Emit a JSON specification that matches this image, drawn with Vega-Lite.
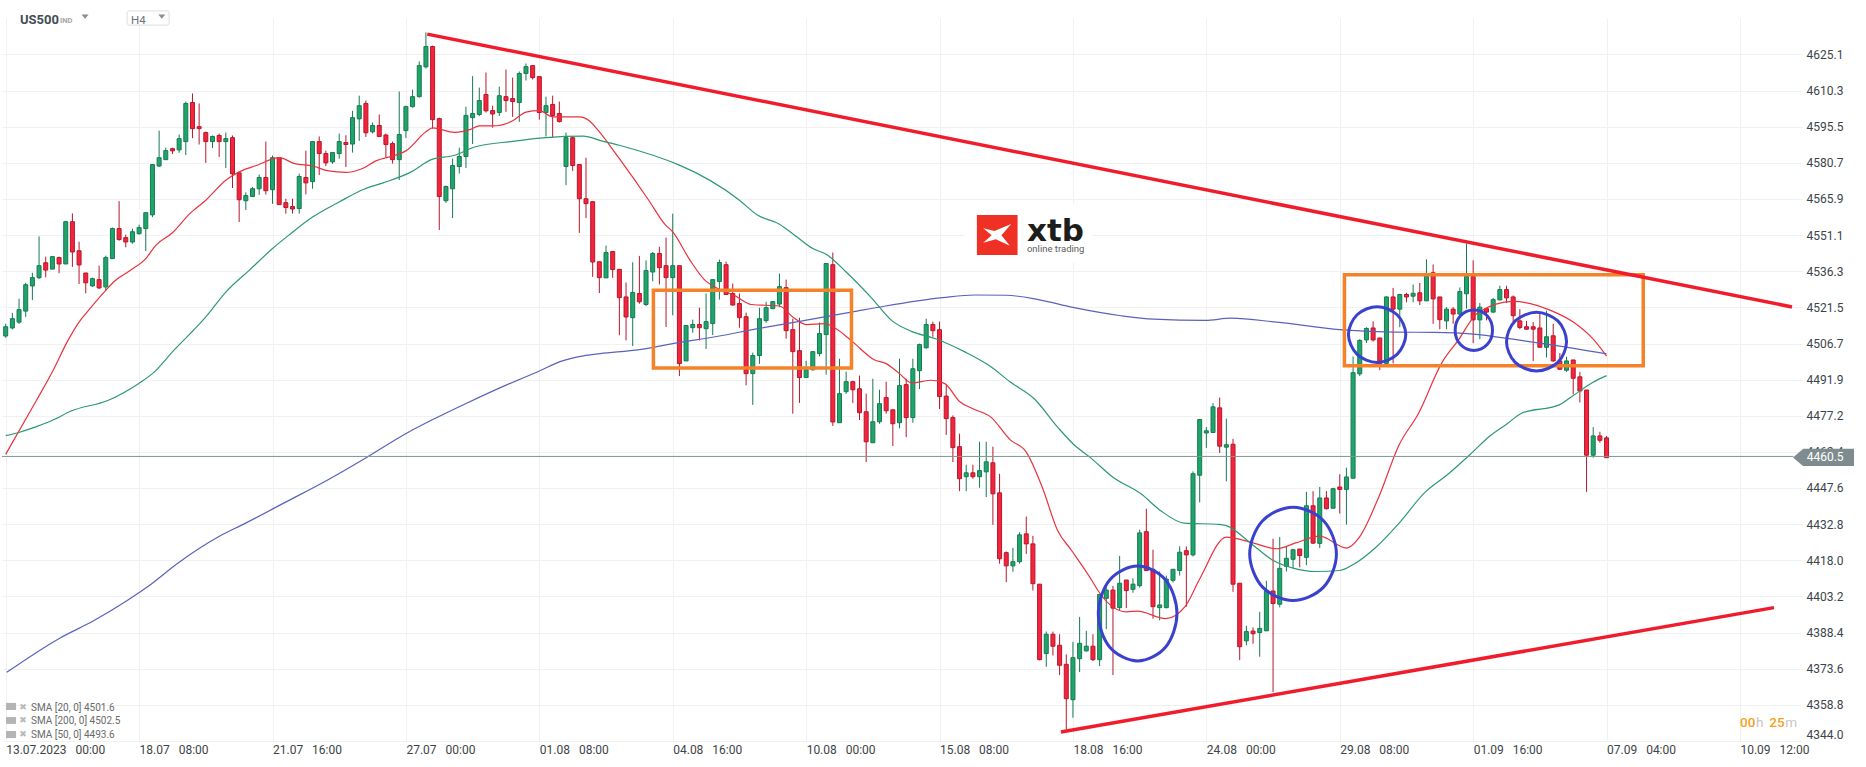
{
  "$schema": "https://vega.github.io/schema/vega-lite/v6.json",
  "width": 1800,
  "height": 723,
  "autosize": "none",
  "padding": {"left": 2, "top": 18, "right": 64, "bottom": 26},
  "background": "white",
  "view": {"stroke": null},
  "config": {"font": "Roboto"},
  "datasets": {
    "candles": [
      {"b":0,"o":4509.8,"h":4514.8,"l":4509.1,"c":4513.6,"dir":"up"},
      {"b":1,"o":4513.1,"h":4519.3,"l":4512.5,"c":4516.9,"dir":"up"},
      {"b":2,"o":4515.5,"h":4525.1,"l":4514.7,"c":4520.6,"dir":"up"},
      {"b":3,"o":4520.0,"h":4531.6,"l":4517.6,"c":4530.8,"dir":"up"},
      {"b":4,"o":4530.3,"h":4535.7,"l":4524.5,"c":4533.7,"dir":"up"},
      {"b":5,"o":4533.7,"h":4550.6,"l":4533.1,"c":4538.6,"dir":"up"},
      {"b":6,"o":4539.8,"h":4542.3,"l":4533.8,"c":4536.8,"dir":"down"},
      {"b":7,"o":4537.2,"h":4542.3,"l":4537.2,"c":4542.3,"dir":"up"},
      {"b":8,"o":4541.9,"h":4542.3,"l":4535.5,"c":4539.3,"dir":"down"},
      {"b":9,"o":4539.3,"h":4557.0,"l":4539.3,"c":4556.6,"dir":"up"},
      {"b":10,"o":4556.6,"h":4560.0,"l":4538.1,"c":4544.2,"dir":"down"},
      {"b":11,"o":4544.7,"h":4548.4,"l":4531.1,"c":4538.9,"dir":"down"},
      {"b":12,"o":4535.6,"h":4535.7,"l":4527.3,"c":4531.6,"dir":"down"},
      {"b":13,"o":4530.3,"h":4533.7,"l":4529.9,"c":4533.3,"dir":"up"},
      {"b":14,"o":4532.9,"h":4538.6,"l":4529.0,"c":4529.5,"dir":"down"},
      {"b":15,"o":4529.9,"h":4542.7,"l":4528.5,"c":4541.9,"dir":"up"},
      {"b":16,"o":4541.5,"h":4554.2,"l":4541.3,"c":4553.8,"dir":"up"},
      {"b":17,"o":4553.8,"h":4565.0,"l":4548.8,"c":4549.3,"dir":"down"},
      {"b":18,"o":4550.1,"h":4551.3,"l":4546.1,"c":4548.3,"dir":"down"},
      {"b":19,"o":4548.3,"h":4553.8,"l":4547.6,"c":4552.5,"dir":"up"},
      {"b":20,"o":4551.7,"h":4555.4,"l":4551.3,"c":4554.2,"dir":"up"},
      {"b":21,"o":4553.8,"h":4560.3,"l":4544.6,"c":4560.3,"dir":"up"},
      {"b":22,"o":4559.4,"h":4580.0,"l":4558.5,"c":4580.0,"dir":"up"},
      {"b":23,"o":4579.4,"h":4593.9,"l":4579.0,"c":4582.8,"dir":"up"},
      {"b":24,"o":4582.0,"h":4586.9,"l":4581.9,"c":4585.7,"dir":"up"},
      {"b":25,"o":4586.5,"h":4586.9,"l":4584.3,"c":4585.6,"dir":"down"},
      {"b":26,"o":4586.0,"h":4592.3,"l":4584.8,"c":4590.6,"dir":"up"},
      {"b":27,"o":4589.4,"h":4605.8,"l":4583.9,"c":4605.0,"dir":"up"},
      {"b":28,"o":4605.4,"h":4609.1,"l":4590.8,"c":4594.7,"dir":"down"},
      {"b":29,"o":4595.5,"h":4605.0,"l":4588.2,"c":4594.7,"dir":"down"},
      {"b":30,"o":4593.1,"h":4593.5,"l":4580.7,"c":4589.4,"dir":"down"},
      {"b":31,"o":4589.4,"h":4591.9,"l":4586.8,"c":4591.5,"dir":"up"},
      {"b":32,"o":4591.9,"h":4592.7,"l":4583.1,"c":4589.4,"dir":"down"},
      {"b":33,"o":4589.4,"h":4593.1,"l":4578.6,"c":4590.6,"dir":"up"},
      {"b":34,"o":4591.0,"h":4591.9,"l":4570.4,"c":4576.2,"dir":"down"},
      {"b":35,"o":4576.6,"h":4576.8,"l":4556.5,"c":4565.6,"dir":"down"},
      {"b":36,"o":4565.2,"h":4568.6,"l":4561.4,"c":4567.3,"dir":"up"},
      {"b":37,"o":4566.9,"h":4570.8,"l":4566.7,"c":4570.1,"dir":"up"},
      {"b":38,"o":4570.1,"h":4575.9,"l":4567.6,"c":4574.7,"dir":"up"},
      {"b":39,"o":4574.7,"h":4589.4,"l":4567.7,"c":4569.3,"dir":"down"},
      {"b":40,"o":4569.7,"h":4583.7,"l":4563.9,"c":4582.8,"dir":"up"},
      {"b":41,"o":4582.8,"h":4583.1,"l":4563.6,"c":4563.6,"dir":"down"},
      {"b":42,"o":4564.4,"h":4566.0,"l":4559.9,"c":4562.4,"dir":"down"},
      {"b":43,"o":4562.8,"h":4566.0,"l":4559.9,"c":4561.8,"dir":"down"},
      {"b":44,"o":4562.0,"h":4576.3,"l":4559.9,"c":4575.1,"dir":"up"},
      {"b":45,"o":4574.7,"h":4585.7,"l":4567.8,"c":4572.5,"dir":"down"},
      {"b":46,"o":4573.0,"h":4589.4,"l":4570.1,"c":4589.4,"dir":"up"},
      {"b":47,"o":4589.4,"h":4591.5,"l":4575.7,"c":4584.5,"dir":"down"},
      {"b":48,"o":4584.5,"h":4585.7,"l":4579.4,"c":4580.7,"dir":"down"},
      {"b":49,"o":4581.1,"h":4584.9,"l":4580.3,"c":4584.9,"dir":"up"},
      {"b":50,"o":4584.5,"h":4592.7,"l":4582.4,"c":4589.4,"dir":"up"},
      {"b":51,"o":4589.0,"h":4592.0,"l":4579.0,"c":4588.2,"dir":"down"},
      {"b":52,"o":4588.4,"h":4602.0,"l":4584.9,"c":4599.2,"dir":"up"},
      {"b":53,"o":4598.7,"h":4608.2,"l":4589.7,"c":4604.1,"dir":"up"},
      {"b":54,"o":4605.0,"h":4606.2,"l":4591.3,"c":4593.0,"dir":"down"},
      {"b":55,"o":4593.4,"h":4597.2,"l":4592.7,"c":4596.0,"dir":"up"},
      {"b":56,"o":4596.0,"h":4600.5,"l":4591.5,"c":4591.5,"dir":"down"},
      {"b":57,"o":4592.1,"h":4592.7,"l":4582.8,"c":4588.2,"dir":"down"},
      {"b":58,"o":4588.6,"h":4589.4,"l":4580.4,"c":4582.0,"dir":"down"},
      {"b":59,"o":4582.0,"h":4609.9,"l":4573.7,"c":4592.3,"dir":"up"},
      {"b":60,"o":4593.9,"h":4604.1,"l":4590.9,"c":4603.7,"dir":"up"},
      {"b":61,"o":4603.7,"h":4610.7,"l":4603.3,"c":4607.8,"dir":"up"},
      {"b":62,"o":4607.8,"h":4622.2,"l":4607.4,"c":4620.5,"dir":"up"},
      {"b":63,"o":4620.0,"h":4634.1,"l":4619.3,"c":4628.3,"dir":"up"},
      {"b":64,"o":4628.3,"h":4628.7,"l":4594.7,"c":4598.4,"dir":"down"},
      {"b":65,"o":4598.8,"h":4599.2,"l":4553.2,"c":4566.9,"dir":"down"},
      {"b":66,"o":4565.2,"h":4571.4,"l":4564.3,"c":4571.0,"dir":"up"},
      {"b":67,"o":4570.1,"h":4582.4,"l":4558.1,"c":4579.6,"dir":"up"},
      {"b":68,"o":4579.2,"h":4586.9,"l":4576.3,"c":4583.3,"dir":"up"},
      {"b":69,"o":4583.3,"h":4603.7,"l":4578.6,"c":4600.1,"dir":"up"},
      {"b":70,"o":4599.2,"h":4616.2,"l":4588.4,"c":4600.9,"dir":"up"},
      {"b":71,"o":4600.5,"h":4611.5,"l":4599.8,"c":4606.2,"dir":"up"},
      {"b":72,"o":4608.7,"h":4617.7,"l":4601.3,"c":4602.0,"dir":"down"},
      {"b":73,"o":4602.1,"h":4604.1,"l":4595.1,"c":4600.7,"dir":"down"},
      {"b":74,"o":4601.3,"h":4611.9,"l":4599.9,"c":4608.2,"dir":"up"},
      {"b":75,"o":4607.8,"h":4618.9,"l":4601.6,"c":4606.2,"dir":"down"},
      {"b":76,"o":4607.0,"h":4615.6,"l":4599.5,"c":4605.8,"dir":"down"},
      {"b":77,"o":4605.4,"h":4618.1,"l":4597.5,"c":4617.3,"dir":"up"},
      {"b":78,"o":4617.3,"h":4621.4,"l":4614.4,"c":4620.1,"dir":"up"},
      {"b":79,"o":4620.5,"h":4620.5,"l":4614.8,"c":4615.6,"dir":"down"},
      {"b":80,"o":4616.0,"h":4616.0,"l":4598.4,"c":4601.3,"dir":"down"},
      {"b":81,"o":4601.3,"h":4607.8,"l":4591.5,"c":4604.1,"dir":"up"},
      {"b":82,"o":4604.6,"h":4608.2,"l":4591.0,"c":4600.1,"dir":"down"},
      {"b":83,"o":4600.9,"h":4605.8,"l":4597.2,"c":4597.6,"dir":"down"},
      {"b":84,"o":4579.2,"h":4593.1,"l":4571.6,"c":4591.0,"dir":"up"},
      {"b":85,"o":4591.0,"h":4591.5,"l":4577.4,"c":4579.6,"dir":"down"},
      {"b":86,"o":4580.0,"h":4580.0,"l":4552.0,"c":4566.0,"dir":"down"},
      {"b":87,"o":4566.0,"h":4582.8,"l":4558.1,"c":4564.0,"dir":"down"},
      {"b":88,"o":4564.8,"h":4565.0,"l":4534.0,"c":4540.1,"dir":"down"},
      {"b":89,"o":4540.2,"h":4540.2,"l":4527.4,"c":4533.7,"dir":"down"},
      {"b":90,"o":4533.6,"h":4546.8,"l":4533.6,"c":4544.0,"dir":"up"},
      {"b":91,"o":4544.4,"h":4544.4,"l":4533.6,"c":4537.0,"dir":"down"},
      {"b":92,"o":4537.1,"h":4537.1,"l":4510.1,"c":4525.5,"dir":"down"},
      {"b":93,"o":4525.8,"h":4531.7,"l":4508.0,"c":4517.6,"dir":"down"},
      {"b":94,"o":4517.3,"h":4540.0,"l":4505.7,"c":4527.6,"dir":"up"},
      {"b":95,"o":4527.2,"h":4542.6,"l":4523.0,"c":4523.8,"dir":"down"},
      {"b":96,"o":4522.7,"h":4540.8,"l":4522.1,"c":4536.6,"dir":"up"},
      {"b":97,"o":4536.0,"h":4544.2,"l":4532.2,"c":4543.6,"dir":"up"},
      {"b":98,"o":4543.6,"h":4546.3,"l":4530.9,"c":4537.8,"dir":"down"},
      {"b":99,"o":4538.6,"h":4550.1,"l":4513.5,"c":4533.7,"dir":"down"},
      {"b":100,"o":4533.7,"h":4559.9,"l":4518.3,"c":4538.6,"dir":"up"},
      {"b":101,"o":4538.6,"h":4538.6,"l":4493.4,"c":4498.5,"dir":"down"},
      {"b":102,"o":4499.6,"h":4514.1,"l":4499.6,"c":4514.1,"dir":"up"},
      {"b":103,"o":4513.2,"h":4516.5,"l":4511.1,"c":4514.5,"dir":"up"},
      {"b":104,"o":4514.5,"h":4521.4,"l":4508.0,"c":4513.2,"dir":"down"},
      {"b":105,"o":4512.8,"h":4527.2,"l":4504.5,"c":4515.7,"dir":"up"},
      {"b":106,"o":4514.9,"h":4532.9,"l":4510.2,"c":4532.9,"dir":"up"},
      {"b":107,"o":4532.1,"h":4541.1,"l":4524.7,"c":4539.9,"dir":"up"},
      {"b":108,"o":4539.0,"h":4540.3,"l":4526.8,"c":4526.8,"dir":"down"},
      {"b":109,"o":4527.2,"h":4531.3,"l":4522.2,"c":4522.5,"dir":"down"},
      {"b":110,"o":4523.1,"h":4527.2,"l":4513.2,"c":4517.3,"dir":"down"},
      {"b":111,"o":4517.7,"h":4519.4,"l":4489.6,"c":4494.4,"dir":"down"},
      {"b":112,"o":4494.4,"h":4503.0,"l":4481.6,"c":4501.8,"dir":"up"},
      {"b":113,"o":4501.8,"h":4521.4,"l":4498.4,"c":4516.9,"dir":"up"},
      {"b":114,"o":4516.1,"h":4523.8,"l":4515.2,"c":4521.4,"dir":"up"},
      {"b":115,"o":4521.0,"h":4523.9,"l":4520.9,"c":4523.9,"dir":"up"},
      {"b":116,"o":4522.9,"h":4535.4,"l":4521.6,"c":4530.0,"dir":"up"},
      {"b":117,"o":4529.6,"h":4532.9,"l":4508.7,"c":4512.0,"dir":"down"},
      {"b":118,"o":4512.4,"h":4516.9,"l":4478.0,"c":4503.4,"dir":"down"},
      {"b":119,"o":4503.8,"h":4517.3,"l":4482.4,"c":4492.8,"dir":"down"},
      {"b":120,"o":4492.8,"h":4499.7,"l":4492.6,"c":4496.0,"dir":"up"},
      {"b":121,"o":4496.0,"h":4503.4,"l":4495.6,"c":4503.4,"dir":"up"},
      {"b":122,"o":4502.6,"h":4515.3,"l":4501.5,"c":4510.8,"dir":"up"},
      {"b":123,"o":4510.4,"h":4539.5,"l":4494.0,"c":4539.5,"dir":"up"},
      {"b":124,"o":4539.0,"h":4544.0,"l":4473.0,"c":4474.6,"dir":"down"},
      {"b":125,"o":4474.3,"h":4500.5,"l":4474.2,"c":4486.2,"dir":"up"},
      {"b":126,"o":4487.0,"h":4495.2,"l":4486.1,"c":4491.1,"dir":"up"},
      {"b":127,"o":4491.1,"h":4491.5,"l":4482.4,"c":4487.8,"dir":"down"},
      {"b":128,"o":4488.2,"h":4493.6,"l":4475.4,"c":4478.4,"dir":"down"},
      {"b":129,"o":4478.8,"h":4486.2,"l":4458.2,"c":4466.5,"dir":"down"},
      {"b":130,"o":4466.1,"h":4492.3,"l":4466.1,"c":4474.7,"dir":"up"},
      {"b":131,"o":4474.7,"h":4487.8,"l":4473.9,"c":4482.1,"dir":"up"},
      {"b":132,"o":4484.6,"h":4491.1,"l":4478.0,"c":4479.2,"dir":"down"},
      {"b":133,"o":4479.6,"h":4479.6,"l":4464.8,"c":4473.9,"dir":"down"},
      {"b":134,"o":4474.3,"h":4500.5,"l":4472.0,"c":4489.5,"dir":"up"},
      {"b":135,"o":4489.9,"h":4492.3,"l":4468.4,"c":4476.4,"dir":"down"},
      {"b":136,"o":4476.4,"h":4500.5,"l":4474.3,"c":4496.4,"dir":"up"},
      {"b":137,"o":4495.6,"h":4506.7,"l":4488.1,"c":4506.3,"dir":"up"},
      {"b":138,"o":4505.0,"h":4516.9,"l":4504.6,"c":4514.5,"dir":"up"},
      {"b":139,"o":4514.5,"h":4515.7,"l":4509.5,"c":4512.0,"dir":"down"},
      {"b":140,"o":4512.4,"h":4515.7,"l":4479.9,"c":4485.0,"dir":"down"},
      {"b":141,"o":4485.2,"h":4489.9,"l":4469.3,"c":4476.0,"dir":"down"},
      {"b":142,"o":4476.4,"h":4477.3,"l":4458.2,"c":4464.1,"dir":"down"},
      {"b":143,"o":4464.5,"h":4469.8,"l":4446.3,"c":4451.4,"dir":"down"},
      {"b":144,"o":4452.2,"h":4457.1,"l":4446.3,"c":4453.8,"dir":"up"},
      {"b":145,"o":4453.8,"h":4457.1,"l":4451.4,"c":4452.2,"dir":"down"},
      {"b":146,"o":4452.2,"h":4466.5,"l":4447.7,"c":4454.7,"dir":"up"},
      {"b":147,"o":4454.2,"h":4466.5,"l":4443.9,"c":4458.3,"dir":"up"},
      {"b":148,"o":4457.9,"h":4464.5,"l":4432.5,"c":4445.2,"dir":"down"},
      {"b":149,"o":4445.6,"h":4453.4,"l":4416.6,"c":4418.6,"dir":"down"},
      {"b":150,"o":4421.1,"h":4421.6,"l":4409.0,"c":4415.7,"dir":"down"},
      {"b":151,"o":4415.7,"h":4423.1,"l":4413.3,"c":4417.4,"dir":"up"},
      {"b":152,"o":4417.4,"h":4429.5,"l":4416.6,"c":4428.4,"dir":"up"},
      {"b":153,"o":4428.8,"h":4435.9,"l":4420.6,"c":4424.7,"dir":"down"},
      {"b":154,"o":4424.7,"h":4428.0,"l":4405.6,"c":4408.4,"dir":"down"},
      {"b":155,"o":4408.2,"h":4408.2,"l":4377.0,"c":4377.3,"dir":"down"},
      {"b":156,"o":4379.8,"h":4388.8,"l":4374.4,"c":4387.7,"dir":"up"},
      {"b":157,"o":4387.7,"h":4388.8,"l":4379.0,"c":4382.8,"dir":"down"},
      {"b":158,"o":4383.2,"h":4387.7,"l":4371.0,"c":4375.0,"dir":"down"},
      {"b":159,"o":4375.4,"h":4379.5,"l":4348.7,"c":4361.3,"dir":"down"},
      {"b":160,"o":4360.9,"h":4384.6,"l":4353.5,"c":4378.1,"dir":"up"},
      {"b":161,"o":4377.7,"h":4394.8,"l":4372.2,"c":4384.0,"dir":"up"},
      {"b":162,"o":4380.9,"h":4389.1,"l":4380.6,"c":4382.8,"dir":"up"},
      {"b":163,"o":4382.8,"h":4387.7,"l":4376.7,"c":4377.3,"dir":"down"},
      {"b":164,"o":4377.3,"h":4404.0,"l":4374.7,"c":4404.0,"dir":"up"},
      {"b":165,"o":4402.4,"h":4407.5,"l":4389.8,"c":4405.8,"dir":"up"},
      {"b":166,"o":4405.8,"h":4407.5,"l":4371.0,"c":4398.4,"dir":"down"},
      {"b":167,"o":4398.6,"h":4419.8,"l":4397.6,"c":4408.6,"dir":"up"},
      {"b":168,"o":4409.9,"h":4409.9,"l":4398.4,"c":4405.6,"dir":"down"},
      {"b":169,"o":4406.1,"h":4410.6,"l":4404.7,"c":4408.2,"dir":"up"},
      {"b":170,"o":4407.6,"h":4430.5,"l":4406.8,"c":4429.2,"dir":"up"},
      {"b":171,"o":4429.7,"h":4439.1,"l":4413.6,"c":4413.8,"dir":"down"},
      {"b":172,"o":4414.3,"h":4422.3,"l":4394.1,"c":4399.0,"dir":"down"},
      {"b":173,"o":4398.6,"h":4413.4,"l":4393.4,"c":4399.7,"dir":"up"},
      {"b":174,"o":4398.6,"h":4411.7,"l":4398.3,"c":4410.3,"dir":"up"},
      {"b":175,"o":4409.8,"h":4414.3,"l":4408.9,"c":4414.3,"dir":"up"},
      {"b":176,"o":4413.8,"h":4423.7,"l":4411.7,"c":4421.3,"dir":"up"},
      {"b":177,"o":4421.9,"h":4423.7,"l":4399.0,"c":4420.2,"dir":"down"},
      {"b":178,"o":4420.2,"h":4454.4,"l":4419.5,"c":4453.4,"dir":"up"},
      {"b":179,"o":4452.8,"h":4475.6,"l":4441.7,"c":4475.6,"dir":"up"},
      {"b":180,"o":4470.1,"h":4472.5,"l":4464.0,"c":4471.0,"dir":"up"},
      {"b":181,"o":4470.3,"h":4482.3,"l":4470.1,"c":4480.8,"dir":"up"},
      {"b":182,"o":4480.4,"h":4484.6,"l":4461.9,"c":4464.7,"dir":"down"},
      {"b":183,"o":4464.3,"h":4476.0,"l":4450.3,"c":4465.3,"dir":"up"},
      {"b":184,"o":4465.5,"h":4467.7,"l":4405.1,"c":4408.2,"dir":"down"},
      {"b":185,"o":4408.6,"h":4408.6,"l":4377.1,"c":4382.6,"dir":"down"},
      {"b":186,"o":4385.0,"h":4391.2,"l":4383.2,"c":4388.8,"dir":"up"},
      {"b":187,"o":4389.0,"h":4390.5,"l":4383.8,"c":4387.9,"dir":"down"},
      {"b":188,"o":4388.4,"h":4396.9,"l":4378.5,"c":4390.1,"dir":"up"},
      {"b":189,"o":4389.1,"h":4409.6,"l":4389.1,"c":4405.4,"dir":"up"},
      {"b":190,"o":4405.4,"h":4426.8,"l":4364.0,"c":4400.3,"dir":"down"},
      {"b":191,"o":4400.0,"h":4427.5,"l":4398.7,"c":4414.7,"dir":"up"},
      {"b":192,"o":4415.5,"h":4423.7,"l":4413.4,"c":4418.8,"dir":"up"},
      {"b":193,"o":4418.4,"h":4422.7,"l":4414.8,"c":4422.3,"dir":"up"},
      {"b":194,"o":4422.6,"h":4422.6,"l":4415.1,"c":4419.9,"dir":"down"},
      {"b":195,"o":4419.2,"h":4446.0,"l":4416.0,"c":4440.3,"dir":"up"},
      {"b":196,"o":4440.3,"h":4446.3,"l":4424.7,"c":4425.0,"dir":"down"},
      {"b":197,"o":4424.9,"h":4448.0,"l":4423.0,"c":4443.5,"dir":"up"},
      {"b":198,"o":4443.5,"h":4446.3,"l":4438.8,"c":4439.1,"dir":"down"},
      {"b":199,"o":4439.3,"h":4447.7,"l":4439.1,"c":4447.3,"dir":"up"},
      {"b":200,"o":4448.0,"h":4453.2,"l":4437.1,"c":4447.0,"dir":"down"},
      {"b":201,"o":4447.0,"h":4455.9,"l":4432.6,"c":4452.1,"dir":"up"},
      {"b":202,"o":4451.6,"h":4501.4,"l":4451.3,"c":4494.8,"dir":"up"},
      {"b":203,"o":4494.3,"h":4508.5,"l":4493.4,"c":4508.0,"dir":"up"},
      {"b":204,"o":4508.2,"h":4513.4,"l":4506.9,"c":4512.9,"dir":"up"},
      {"b":205,"o":4513.1,"h":4515.8,"l":4507.5,"c":4508.2,"dir":"down"},
      {"b":206,"o":4509.0,"h":4509.0,"l":4495.8,"c":4498.6,"dir":"down"},
      {"b":207,"o":4498.6,"h":4526.1,"l":4498.2,"c":4525.8,"dir":"up"},
      {"b":208,"o":4525.8,"h":4529.5,"l":4498.6,"c":4520.8,"dir":"down"},
      {"b":209,"o":4520.8,"h":4527.1,"l":4513.4,"c":4526.8,"dir":"up"},
      {"b":210,"o":4526.8,"h":4527.5,"l":4523.6,"c":4525.8,"dir":"down"},
      {"b":211,"o":4526.1,"h":4530.9,"l":4523.6,"c":4527.3,"dir":"up"},
      {"b":212,"o":4527.5,"h":4531.5,"l":4522.5,"c":4524.2,"dir":"down"},
      {"b":213,"o":4524.2,"h":4541.2,"l":4524.2,"c":4534.2,"dir":"up"},
      {"b":214,"o":4535.7,"h":4539.1,"l":4514.8,"c":4525.0,"dir":"down"},
      {"b":215,"o":4525.8,"h":4525.8,"l":4512.6,"c":4516.5,"dir":"down"},
      {"b":216,"o":4516.0,"h":4521.6,"l":4512.6,"c":4520.8,"dir":"up"},
      {"b":217,"o":4520.8,"h":4521.6,"l":4514.8,"c":4518.8,"dir":"down"},
      {"b":218,"o":4518.8,"h":4529.7,"l":4518.4,"c":4528.0,"dir":"up"},
      {"b":219,"o":4527.1,"h":4547.6,"l":4521.0,"c":4534.2,"dir":"up"},
      {"b":220,"o":4534.2,"h":4540.8,"l":4506.9,"c":4516.4,"dir":"down"},
      {"b":221,"o":4516.4,"h":4523.3,"l":4508.5,"c":4521.6,"dir":"up"},
      {"b":222,"o":4521.0,"h":4521.0,"l":4516.2,"c":4519.6,"dir":"down"},
      {"b":223,"o":4519.6,"h":4525.4,"l":4519.3,"c":4524.7,"dir":"up"},
      {"b":224,"o":4524.6,"h":4530.4,"l":4524.4,"c":4528.8,"dir":"up"},
      {"b":225,"o":4528.8,"h":4530.4,"l":4523.3,"c":4525.4,"dir":"down"},
      {"b":226,"o":4525.8,"h":4526.4,"l":4515.1,"c":4518.1,"dir":"down"},
      {"b":227,"o":4516.0,"h":4520.8,"l":4512.6,"c":4513.3,"dir":"down"},
      {"b":228,"o":4513.6,"h":4516.0,"l":4512.3,"c":4512.6,"dir":"down"},
      {"b":229,"o":4513.6,"h":4515.5,"l":4499.6,"c":4512.6,"dir":"down"},
      {"b":230,"o":4513.1,"h":4518.8,"l":4504.9,"c":4505.2,"dir":"down"},
      {"b":231,"o":4505.2,"h":4520.2,"l":4501.0,"c":4509.5,"dir":"up"},
      {"b":232,"o":4509.9,"h":4514.8,"l":4499.3,"c":4499.6,"dir":"down"},
      {"b":233,"o":4499.6,"h":4502.8,"l":4496.0,"c":4496.2,"dir":"down"},
      {"b":234,"o":4495.8,"h":4501.3,"l":4495.1,"c":4499.6,"dir":"up"},
      {"b":235,"o":4500.0,"h":4500.0,"l":4485.9,"c":4492.5,"dir":"down"},
      {"b":236,"o":4493.1,"h":4495.1,"l":4482.6,"c":4487.3,"dir":"down"},
      {"b":237,"o":4487.7,"h":4487.7,"l":4446.0,"c":4461.0,"dir":"down"},
      {"b":238,"o":4461.0,"h":4472.5,"l":4460.0,"c":4468.9,"dir":"up"},
      {"b":239,"o":4468.9,"h":4470.6,"l":4466.1,"c":4467.1,"dir":"down"},
      {"b":240,"o":4468.1,"h":4468.9,"l":4460.0,"c":4460.0,"dir":"down"}
    ],
    "sma": [
      {"sma":"20","b":0,"p":4461.4},{"sma":"20","b":4.6,"p":4483.4},{"sma":"20","b":7.1,"p":4495.7},{"sma":"20","b":9.2,"p":4507.3},{"sma":"20","b":11,"p":4515.5},{"sma":"20","b":12.2,"p":4519.6},{"sma":"20","b":15,"p":4528.5},{"sma":"20","b":16.3,"p":4532.2},{"sma":"20","b":18.7,"p":4536.7},{"sma":"20","b":21,"p":4541.5},{"sma":"20","b":22.5,"p":4546.9},{"sma":"20","b":25,"p":4552.1},{"sma":"20","b":27.6,"p":4559.9},{"sma":"20","b":30,"p":4565.4},{"sma":"20","b":33,"p":4573.6},{"sma":"20","b":35,"p":4577},{"sma":"20","b":37.7,"p":4579.7},{"sma":"20","b":41,"p":4582.8},{"sma":"20","b":43.3,"p":4580.4},{"sma":"20","b":46,"p":4579.4},{"sma":"20","b":48.4,"p":4577.4},{"sma":"20","b":51,"p":4576.8},{"sma":"20","b":53.4,"p":4578.3},{"sma":"20","b":55.5,"p":4581.5},{"sma":"20","b":58.4,"p":4583.8},{"sma":"20","b":60,"p":4585.6},{"sma":"20","b":63,"p":4593.4},{"sma":"20","b":64,"p":4595},{"sma":"20","b":67.3,"p":4593.2},{"sma":"20","b":69.7,"p":4594.4},{"sma":"20","b":71,"p":4595.8},{"sma":"20","b":73,"p":4595.8},{"sma":"20","b":76,"p":4597.9},{"sma":"20","b":78,"p":4601.5},{"sma":"20","b":80,"p":4602.1},{"sma":"20","b":82,"p":4599.5},{"sma":"20","b":86,"p":4599.5},{"sma":"20","b":87.5,"p":4597.9},{"sma":"20","b":88.6,"p":4594.7},{"sma":"20","b":92,"p":4582.4},{"sma":"20","b":96.4,"p":4565.4},{"sma":"20","b":98.8,"p":4555.6},{"sma":"20","b":100,"p":4552.4},{"sma":"20","b":102.6,"p":4540.8},{"sma":"20","b":104.7,"p":4533},{"sma":"20","b":106.8,"p":4529.2},{"sma":"20","b":109.2,"p":4526.5},{"sma":"20","b":111.8,"p":4522.7},{"sma":"20","b":116,"p":4522.1},{"sma":"20","b":118,"p":4517.6},{"sma":"20","b":120,"p":4514.5},{"sma":"20","b":122.8,"p":4514.9},{"sma":"20","b":124.5,"p":4512.8},{"sma":"20","b":127,"p":4507.4},{"sma":"20","b":130.2,"p":4500.1},{"sma":"20","b":132,"p":4498.5},{"sma":"20","b":134,"p":4494.4},{"sma":"20","b":135.8,"p":4490.6},{"sma":"20","b":138.8,"p":4491.7},{"sma":"20","b":140.8,"p":4490.3},{"sma":"20","b":143,"p":4483},{"sma":"20","b":145,"p":4480},{"sma":"20","b":147.7,"p":4476.6},{"sma":"20","b":150.6,"p":4467.3},{"sma":"20","b":153,"p":4462.3},{"sma":"20","b":155.4,"p":4447.9},{"sma":"20","b":157.7,"p":4430.2},{"sma":"20","b":159.8,"p":4422},{"sma":"20","b":163,"p":4409},{"sma":"20","b":163.8,"p":4405.4},{"sma":"20","b":168,"p":4396.9},{"sma":"20","b":169.7,"p":4397.2},{"sma":"20","b":173.9,"p":4394.1},{"sma":"20","b":176.8,"p":4399},{"sma":"20","b":179,"p":4410.3},{"sma":"20","b":183,"p":4427.5},{"sma":"20","b":187,"p":4425.1},{"sma":"20","b":190.5,"p":4422.7},{"sma":"20","b":193.4,"p":4425.1},{"sma":"20","b":197,"p":4427.9},{"sma":"20","b":201,"p":4423},{"sma":"20","b":202.9,"p":4427.3},{"sma":"20","b":205.9,"p":4444.2},{"sma":"20","b":208.8,"p":4464.7},{"sma":"20","b":211.8,"p":4478.1},{"sma":"20","b":215.4,"p":4499.3},{"sma":"20","b":217.7,"p":4507.8},{"sma":"20","b":220.7,"p":4519.3},{"sma":"20","b":226,"p":4524},{"sma":"20","b":231.7,"p":4520.2},{"sma":"20","b":235,"p":4515.5},{"sma":"20","b":238,"p":4508.5},{"sma":"20","b":240,"p":4501.6},
      {"sma":"50","b":0,"p":4469},{"sma":"50","b":2.1,"p":4470.4},{"sma":"50","b":4.6,"p":4472.7},{"sma":"50","b":7.1,"p":4475.4},{"sma":"50","b":9.8,"p":4479.1},{"sma":"50","b":15.3,"p":4483.4},{"sma":"50","b":19.9,"p":4490.3},{"sma":"50","b":22,"p":4494.4},{"sma":"50","b":25.2,"p":4503.9},{"sma":"50","b":30,"p":4517.6},{"sma":"50","b":33,"p":4527.8},{"sma":"50","b":36.5,"p":4536.7},{"sma":"50","b":40,"p":4545.6},{"sma":"50","b":42.4,"p":4551},{"sma":"50","b":46,"p":4558.5},{"sma":"50","b":50,"p":4564.7},{"sma":"50","b":53.7,"p":4569.9},{"sma":"50","b":56.6,"p":4572.5},{"sma":"50","b":60.8,"p":4577},{"sma":"50","b":63.8,"p":4582},{"sma":"50","b":67.3,"p":4583.8},{"sma":"50","b":70.3,"p":4587.2},{"sma":"50","b":76,"p":4589.5},{"sma":"50","b":81,"p":4591},{"sma":"50","b":86.6,"p":4591.6},{"sma":"50","b":89.3,"p":4589.7},{"sma":"50","b":92,"p":4587.9},{"sma":"50","b":110,"p":4565.4},{"sma":"50","b":112.7,"p":4559.3},{"sma":"50","b":116,"p":4555.6},{"sma":"50","b":118.6,"p":4550.4},{"sma":"50","b":121,"p":4545.6},{"sma":"50","b":123,"p":4543.3},{"sma":"50","b":126,"p":4536},{"sma":"50","b":129.9,"p":4525.1},{"sma":"50","b":132.8,"p":4516.2},{"sma":"50","b":135.8,"p":4511.7},{"sma":"50","b":139.4,"p":4508.7},{"sma":"50","b":143.8,"p":4503.3},{"sma":"50","b":147.4,"p":4497.8},{"sma":"50","b":150.6,"p":4491},{"sma":"50","b":154.2,"p":4484.1},{"sma":"50","b":157.7,"p":4472.5},{"sma":"50","b":160,"p":4465.7},{"sma":"50","b":162.8,"p":4459.6},{"sma":"50","b":166,"p":4452},{"sma":"50","b":170.2,"p":4445.2},{"sma":"50","b":173.1,"p":4438.4},{"sma":"50","b":176.7,"p":4433.2},{"sma":"50","b":181.9,"p":4432.7},{"sma":"50","b":183,"p":4432.2},{"sma":"50","b":186.6,"p":4425.1},{"sma":"50","b":189.9,"p":4418.1},{"sma":"50","b":193,"p":4414.8},{"sma":"50","b":196.4,"p":4413.4},{"sma":"50","b":200,"p":4413.8},{"sma":"50","b":202.3,"p":4416.7},{"sma":"50","b":205.3,"p":4423},{"sma":"50","b":208.8,"p":4432.9},{"sma":"50","b":212.7,"p":4445.6},{"sma":"50","b":216.3,"p":4453.4},{"sma":"50","b":219.5,"p":4461.2},{"sma":"50","b":222.5,"p":4468.9},{"sma":"50","b":225.1,"p":4473.9},{"sma":"50","b":227.2,"p":4478.1},{"sma":"50","b":232.9,"p":4481.6},{"sma":"50","b":234.9,"p":4485.2},{"sma":"50","b":237.9,"p":4490.8},{"sma":"50","b":240,"p":4493.6},
      {"sma":"200","b":0.15,"p":4372.1},{"sma":"200","b":8.1,"p":4386.1},{"sma":"200","b":13.1,"p":4393.1},{"sma":"200","b":18.1,"p":4401.3},{"sma":"200","b":21.1,"p":4406.8},{"sma":"200","b":25.9,"p":4417},{"sma":"200","b":31.9,"p":4427.6},{"sma":"200","b":35.9,"p":4433.1},{"sma":"200","b":41.9,"p":4441.7},{"sma":"200","b":48.4,"p":4451.1},{"sma":"200","b":54.1,"p":4460.1},{"sma":"200","b":60.1,"p":4470},{"sma":"200","b":64.1,"p":4475.7},{"sma":"200","b":69.1,"p":4482.3},{"sma":"200","b":75.1,"p":4489.8},{"sma":"200","b":80.1,"p":4495.6},{"sma":"200","b":83.1,"p":4499.3},{"sma":"200","b":86.6,"p":4501.7},{"sma":"200","b":89.1,"p":4502.6},{"sma":"200","b":95,"p":4504.2},{"sma":"200","b":100,"p":4506.7},{"sma":"200","b":106.8,"p":4509.7},{"sma":"200","b":112.7,"p":4512.8},{"sma":"200","b":118.6,"p":4515.6},{"sma":"200","b":127,"p":4519.7},{"sma":"200","b":131.7,"p":4522},{"sma":"200","b":140.5,"p":4525.5},{"sma":"200","b":145.3,"p":4526.6},{"sma":"200","b":150,"p":4526.5},{"sma":"200","b":154.8,"p":4524.7},{"sma":"200","b":160,"p":4521.5},{"sma":"200","b":167.2,"p":4518.1},{"sma":"200","b":172.1,"p":4516.7},{"sma":"200","b":179.8,"p":4516.2},{"sma":"200","b":183.7,"p":4517.1},{"sma":"200","b":190.5,"p":4515.5},{"sma":"200","b":200.5,"p":4512.3},{"sma":"200","b":208.3,"p":4511.4},{"sma":"200","b":214.2,"p":4511.3},{"sma":"200","b":220,"p":4510.6},{"sma":"200","b":226,"p":4508.5},{"sma":"200","b":232,"p":4506.1},{"sma":"200","b":240,"p":4502.5}
    ],
    "trends": [
      {"line":"upper","b":63.2,"p":4633.4},{"line":"upper","b":267.8,"p":4521.7},
      {"line":"lower","b":158.2,"p":4347.7},{"line":"lower","b":265.1,"p":4398.6}
    ],
    "boxes": [
      {"b":97.1,"b2":126.8,"p":4528.5,"p2":4496.7},
      {"b":200.7,"b2":245.5,"p":4534.9,"p2":4497.6}
    ],
    "circles": [
      {"e":"a","i":0,"b":175.6,"p":4396.2},{"e":"a","i":1,"b":173.9,"p":4409.9},{"e":"a","i":2,"b":169.7,"p":4415.6},{"e":"a","i":3,"b":165.5,"p":4409.9},{"e":"a","i":4,"b":163.8,"p":4396.2},{"e":"a","i":5,"b":165.5,"p":4382.5},{"e":"a","i":6,"b":169.7,"p":4376.8},{"e":"a","i":7,"b":173.9,"p":4382.5},
      {"e":"b","i":0,"b":199.5,"p":4420.6},{"e":"b","i":1,"b":197.6,"p":4434.1},{"e":"b","i":2,"b":193,"p":4439.7},{"e":"b","i":3,"b":188.4,"p":4434.1},{"e":"b","i":4,"b":186.5,"p":4420.6},{"e":"b","i":5,"b":188.4,"p":4407.1},{"e":"b","i":6,"b":193,"p":4401.5},{"e":"b","i":7,"b":197.6,"p":4407.1},
      {"e":"c","i":0,"b":209.9,"p":4510.4},{"e":"c","i":1,"b":208.6,"p":4518.5},{"e":"c","i":2,"b":205.6,"p":4521.8},{"e":"c","i":3,"b":202.6,"p":4518.5},{"e":"c","i":4,"b":201.3,"p":4510.4},{"e":"c","i":5,"b":202.6,"p":4502.3},{"e":"c","i":6,"b":205.6,"p":4499},{"e":"c","i":7,"b":208.6,"p":4502.3},
      {"e":"d","i":0,"b":222.9,"p":4512.2},{"e":"d","i":1,"b":222.1,"p":4518.1},{"e":"d","i":2,"b":220.1,"p":4520.5},{"e":"d","i":3,"b":218.1,"p":4518.1},{"e":"d","i":4,"b":217.3,"p":4512.2},{"e":"d","i":5,"b":218.1,"p":4506.3},{"e":"d","i":6,"b":220.1,"p":4503.9},{"e":"d","i":7,"b":222.1,"p":4506.3},
      {"e":"f","i":0,"b":234,"p":4507.5},{"e":"f","i":1,"b":232.7,"p":4516},{"e":"f","i":2,"b":229.5,"p":4519.5},{"e":"f","i":3,"b":226.3,"p":4516},{"e":"f","i":4,"b":225,"p":4507.5},{"e":"f","i":5,"b":226.3,"p":4499},{"e":"f","i":6,"b":229.5,"p":4495.5},{"e":"f","i":7,"b":232.7,"p":4499}
    ]
  },
  "layer": [
    {
      "data": {"name": "candles"},
      "mark": {"type": "rule", "strokeWidth": 1},
      "encoding": {
        "x": {
          "field": "b",
          "type": "quantitative",
          "scale": {"domain": [-0.555, 269.3], "nice": false, "zero": false, "padding": 0},
          "axis": {
            "title": null,
            "values": [0, 20, 40, 60, 80, 100, 120, 140, 160, 180, 200, 220, 240, 260],
            "labelExpr": "['13.07.2023\u00a0\u00a0\u00a000:00','18.07\u00a0\u00a0\u00a008:00','21.07\u00a0\u00a0\u00a016:00','27.07\u00a0\u00a0\u00a000:00','01.08\u00a0\u00a0\u00a008:00','04.08\u00a0\u00a0\u00a016:00','10.08\u00a0\u00a0\u00a000:00','15.08\u00a0\u00a0\u00a008:00','18.08\u00a0\u00a0\u00a016:00','24.08\u00a0\u00a0\u00a000:00','29.08\u00a0\u00a0\u00a008:00','01.09\u00a0\u00a0\u00a016:00','07.09\u00a0\u00a0\u00a004:00','10.09\u00a0\u00a0\u00a012:00'][datum.value / 20]",
            "labelAlign": "left",
            "labelBaseline": "top",
            "labelPadding": 3,
            "labelFontSize": 12,
            "labelColor": "#3c4449",
            "labelOverlap": false,
            "labelBound": false,
            "labelFlush": false,
            "ticks": false,
            "domain": false,
            "grid": true,
            "gridColor": "#f1f1f1",
            "gridWidth": 1
          }
        },
        "y": {
          "field": "h",
          "type": "quantitative",
          "scale": {"domain": [4344, 4640], "nice": false, "zero": false, "padding": 0},
          "axis": {
            "title": null,
            "orient": "right",
            "tickCount": 30,
            "values": [4344.0, 4358.8, 4373.6, 4388.4, 4403.2, 4418.0, 4432.8, 4447.6, 4462.4, 4477.2, 4491.9, 4506.7, 4521.5, 4536.3, 4551.1, 4565.9, 4580.7, 4595.5, 4610.3, 4625.1],
            "format": ".1f",
            "labelAlign": "left",
            "labelBaseline": {"condition": {"test": "datum.value < 4345", "value": "bottom"}, "value": "middle"},
            "labelPadding": 4,
            "labelFontSize": 12,
            "labelColor": "#3c4449",
            "labelOverlap": false,
            "labelBound": false,
            "labelFlush": false,
            "ticks": false,
            "domain": false,
            "grid": true,
            "gridColor": "#f1f1f1",
            "gridWidth": 1
          }
        },
        "y2": {"field": "l"},
        "stroke": {
          "field": "dir",
          "type": "nominal",
          "scale": {"domain": ["up", "down"], "range": ["#157a50", "#b5182c"]},
          "legend": null
        }
      }
    },
    {
      "data": {"name": "candles"},
      "mark": {"type": "bar", "size": 4, "strokeWidth": 1, "orient": "vertical"},
      "encoding": {
        "x": {"field": "b", "type": "quantitative"},
        "y": {"field": "o", "type": "quantitative"},
        "y2": {"field": "c"},
        "fill": {
          "field": "dir",
          "type": "nominal",
          "scale": {"domain": ["up", "down"], "range": ["#1fa56c", "#f4243d"]},
          "legend": null
        },
        "stroke": {"field": "dir", "type": "nominal", "legend": null}
      }
    },
    {
      "data": {"name": "sma"},
      "mark": {"type": "line", "strokeWidth": 1.2, "interpolate": "monotone"},
      "encoding": {
        "x": {"field": "b", "type": "quantitative"},
        "y": {"field": "p", "type": "quantitative"},
        "detail": {"field": "sma"},
        "color": {
          "field": "sma",
          "type": "nominal",
          "scale": {"domain": ["20", "50", "200"], "range": ["#e9323d", "#2c9a70", "#5a62bb"]},
          "legend": null
        }
      }
    },
    {
      "data": {"values": [{"b": -0.555, "b2": 268, "p": 4460.5}]},
      "mark": {"type": "rule", "color": "#7f9691", "strokeWidth": 1},
      "encoding": {
        "x": {"field": "b", "type": "quantitative"},
        "x2": {"field": "b2"},
        "y": {"field": "p", "type": "quantitative"}
      }
    },
    {
      "data": {"name": "boxes"},
      "mark": {"type": "rect", "fill": null, "stroke": "#f58228", "strokeWidth": 3.5},
      "encoding": {
        "x": {"field": "b", "type": "quantitative"},
        "x2": {"field": "b2"},
        "y": {"field": "p", "type": "quantitative"},
        "y2": {"field": "p2"}
      }
    },
    {
      "data": {"name": "trends"},
      "mark": {"type": "line", "color": "#f01c2c", "strokeWidth": 3.5},
      "encoding": {
        "x": {"field": "b", "type": "quantitative"},
        "y": {"field": "p", "type": "quantitative"},
        "detail": {"field": "line"}
      }
    },
    {
      "data": {"name": "circles"},
      "mark": {"type": "line", "color": "#3b41cf", "strokeWidth": 3, "interpolate": "cardinal-closed"},
      "encoding": {
        "x": {"field": "b", "type": "quantitative"},
        "y": {"field": "p", "type": "quantitative"},
        "detail": {"field": "e"},
        "order": {"field": "i"}
      }
    },
    {
      "data": {"values": [{"b": 143.8, "b2": 162.9, "p": 4563.9, "p2": 4540.1}]},
      "mark": {"type": "rect", "fill": "white"},
      "encoding": {
        "x": {"field": "b", "type": "quantitative"},
        "x2": {"field": "b2"},
        "y": {"field": "p", "type": "quantitative"},
        "y2": {"field": "p2"}
      }
    },
    {
      "data": {"values": [{"b": 145.6, "b2": 151.7, "p": 4559.3, "p2": 4543}]},
      "mark": {"type": "rect", "fill": "#ee3124"},
      "encoding": {
        "x": {"field": "b", "type": "quantitative"},
        "x2": {"field": "b2"},
        "y": {"field": "p", "type": "quantitative"},
        "y2": {"field": "p2"}
      }
    },
    {
      "data": {"values": [{"b": 148.65, "p": 4551.1}]},
      "mark": {
        "type": "point",
        "shape": "M-1,-0.5 L-0.2,-0.3 L1,-0.8 L0.3,0 L0.9,0.75 L-0.1,0.3 L-1,0.55 L-0.4,0 Z",
        "size": 784,
        "filled": true,
        "fill": "white",
        "stroke": null,
        "opacity": 1
      },
      "encoding": {
        "x": {"field": "b", "type": "quantitative"},
        "y": {"field": "p", "type": "quantitative"}
      }
    },
    {
      "data": {"values": [{"b": 153.1, "p": 4548.6, "t": "xtb"}]},
      "mark": {"type": "text", "font": "DejaVu Sans", "fontWeight": "bold", "fontSize": 31, "align": "left", "baseline": "alphabetic", "color": "#1d1d1b"},
      "encoding": {
        "x": {"field": "b", "type": "quantitative"},
        "y": {"field": "p", "type": "quantitative"},
        "text": {"field": "t"}
      }
    },
    {
      "data": {"values": [{"b": 153.1, "p": 4544.0, "t": "online trading"}]},
      "mark": {"type": "text", "fontSize": 9.5, "align": "left", "baseline": "alphabetic", "color": "#5c5c5c"},
      "encoding": {
        "x": {"field": "b", "type": "quantitative"},
        "y": {"field": "p", "type": "quantitative"},
        "text": {"field": "t"}
      }
    },
    {
      "data": {"values": [{"b": 18.2, "b2": 24.5, "p": 4642.9, "p2": 4637.1}]},
      "mark": {"type": "rect", "fill": "white", "stroke": "#dddddd", "strokeWidth": 1, "cornerRadius": 2},
      "encoding": {
        "x": {"field": "b", "type": "quantitative"},
        "x2": {"field": "b2"},
        "y": {"field": "p", "type": "quantitative"},
        "y2": {"field": "p2"}
      }
    },
    {
      "data": {"values": [{"b": 2.14, "p": 4637.5, "t": "US500"}]},
      "mark": {"type": "text", "fontSize": 13, "fontWeight": "bold", "align": "left", "baseline": "alphabetic", "color": "#414c54"},
      "encoding": {
        "x": {"field": "b", "type": "quantitative"},
        "y": {"field": "p", "type": "quantitative"},
        "text": {"field": "t"}
      }
    },
    {
      "data": {"values": [{"b": 8.14, "p": 4637.9, "t": "IND"}]},
      "mark": {"type": "text", "fontSize": 7.5, "fontWeight": "bold", "align": "left", "baseline": "alphabetic", "color": "#a5a5a5"},
      "encoding": {
        "x": {"field": "b", "type": "quantitative"},
        "y": {"field": "p", "type": "quantitative"},
        "text": {"field": "t"}
      }
    },
    {
      "data": {"values": [{"b": 18.8, "p": 4637.5, "t": "H4"}]},
      "mark": {"type": "text", "fontSize": 11.5, "align": "left", "baseline": "alphabetic", "color": "#6b747a"},
      "encoding": {
        "x": {"field": "b", "type": "quantitative"},
        "y": {"field": "p", "type": "quantitative"},
        "text": {"field": "t"}
      }
    },
    {
      "data": {"values": [{"b": 11.9, "p": 4640.6}, {"b": 23.4, "p": 4640.6}]},
      "mark": {"type": "point", "shape": "M-1,-0.6 L1,-0.6 L0,0.6 Z", "size": 50, "filled": true, "fill": "#8a8f92", "stroke": null, "opacity": 1},
      "encoding": {
        "x": {"field": "b", "type": "quantitative"},
        "y": {"field": "p", "type": "quantitative"}
      }
    },
    {
      "data": {"values": [{"b": 0.05, "b2": 1.55, "p": 4359.6, "p2": 4356.7}, {"b": 0.05, "b2": 1.55, "p": 4353.8, "p2": 4351}, {"b": 0.05, "b2": 1.55, "p": 4348.1, "p2": 4345.2}]},
      "mark": {"type": "rect", "fill": "#b4b4b4"},
      "encoding": {
        "x": {"field": "b", "type": "quantitative"},
        "x2": {"field": "b2"},
        "y": {"field": "p", "type": "quantitative"},
        "y2": {"field": "p2"}
      }
    },
    {
      "data": {"values": [{"b": 2.6, "p": 4358, "t": "✖"}, {"b": 2.6, "p": 4352.5, "t": "✖"}, {"b": 2.6, "p": 4346.7, "t": "✖"}]},
      "mark": {"type": "text", "font": "DejaVu Sans", "fontSize": 9, "color": "#b9b9b9", "baseline": "middle"},
      "encoding": {
        "x": {"field": "b", "type": "quantitative"},
        "y": {"field": "p", "type": "quantitative"},
        "text": {"field": "t"}
      }
    },
    {
      "data": {"values": [{"b": 3.8, "p": 4357.6, "t": "SMA [20, 0] 4501.6"}, {"b": 3.8, "p": 4352.1, "t": "SMA [200, 0] 4502.5"}, {"b": 3.8, "p": 4346.4, "t": "SMA [50, 0] 4493.6"}]},
      "mark": {"type": "text", "fontSize": 10, "align": "left", "baseline": "middle", "color": "#6a6a6a"},
      "encoding": {
        "x": {"field": "b", "type": "quantitative"},
        "y": {"field": "p", "type": "quantitative"},
        "text": {"field": "t"}
      }
    },
    {
      "data": {"values": [{"b": 260.0, "p": 4349.7, "t": "00"}, {"b": 264.4, "p": 4349.7, "t": "25"}]},
      "mark": {"type": "text", "fontSize": 13.5, "fontWeight": 500, "align": "left", "baseline": "alphabetic", "color": "#f7a01d"},
      "encoding": {
        "x": {"field": "b", "type": "quantitative"},
        "y": {"field": "p", "type": "quantitative"},
        "text": {"field": "t"}
      }
    },
    {
      "data": {"values": [{"b": 262.4, "p": 4349.7, "t": "h"}, {"b": 266.8, "p": 4349.7, "t": "m"}]},
      "mark": {"type": "text", "fontSize": 13.5, "align": "left", "baseline": "alphabetic", "color": "#c6c6c6"},
      "encoding": {
        "x": {"field": "b", "type": "quantitative"},
        "y": {"field": "p", "type": "quantitative"},
        "text": {"field": "t"}
      }
    },
    {
      "data": {"values": [{"b": 269.45, "b2": 277.1, "p": 4463.6, "p2": 4456.6}]},
      "mark": {"type": "rect", "fill": "#7f8c8f"},
      "encoding": {
        "x": {"field": "b", "type": "quantitative"},
        "x2": {"field": "b2"},
        "y": {"field": "p", "type": "quantitative"},
        "y2": {"field": "p2"}
      }
    },
    {
      "data": {"values": [{"b": 268.7, "p": 4460.1}]},
      "mark": {"type": "point", "shape": "M1,-1.7 L1,1.7 L-1,0 Z", "size": 100, "filled": true, "fill": "#7f8c8f", "stroke": null, "opacity": 1},
      "encoding": {
        "x": {"field": "b", "type": "quantitative"},
        "y": {"field": "p", "type": "quantitative"}
      }
    },
    {
      "data": {"values": [{"b": 270.0, "p": 4460.1, "t": "4460.5"}]},
      "mark": {"type": "text", "fontSize": 12, "align": "left", "baseline": "middle", "color": "white"},
      "encoding": {
        "x": {"field": "b", "type": "quantitative"},
        "y": {"field": "p", "type": "quantitative"},
        "text": {"field": "t"}
      }
    }
  ]
}
